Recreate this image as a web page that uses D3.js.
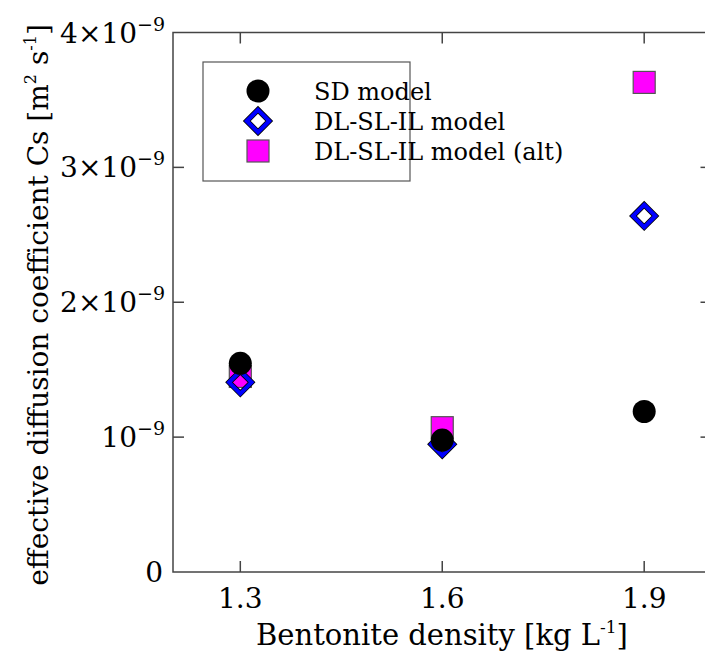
<!DOCTYPE html>
<html>
<head>
<style>
body { margin: 0; background: #fff; }
text { font-family: "DejaVu Serif", serif; fill: #000; }
</style>
</head>
<body>
<div id="chart"></div>
<script src="https://d3js.org/d3.v7.min.js"></script>
<script>
const width = 705;
const height = 656;

// data
const densities = [1.3, 1.6, 1.9];
const sdModel = [1.547e-9, 0.978e-9, 1.19e-9];
const dlModel = [1.406e-9, 0.947e-9, 2.64e-9];
const dlAltModel = [1.45e-9, 1.07e-9, 3.63e-9];

const xTicks = [1.3, 1.6, 1.9];
const yTicks = [0, 1e-9, 2e-9, 3e-9, 4e-9];
const yTickMantissa = ["0", "", "2\u00d7", "3\u00d7", "4\u00d7"];

const margin = { left: 173, top: 32.5, right: 711.5, bottom: 572 };

const svg = d3.select("#chart").append("svg")
  .attr("width", width)
  .attr("height", height);

const x = d3.scaleLinear().domain([1.2, 2.0]).range([margin.left, margin.right]);
const y = d3.scaleLinear().domain([0, 4e-9]).range([margin.bottom, margin.top]);

const frameColor = "#444";
const tickLen = 11;

// frame
svg.append("rect")
  .attr("x", margin.left)
  .attr("y", margin.top)
  .attr("width", margin.right - margin.left)
  .attr("height", margin.bottom - margin.top)
  .attr("fill", "none")
  .attr("stroke", frameColor)
  .attr("stroke-width", 1.5);

// inward ticks on all four sides
xTicks.forEach(t => {
  svg.append("line").attr("x1", x(t)).attr("x2", x(t))
    .attr("y1", margin.bottom).attr("y2", margin.bottom - tickLen)
    .attr("stroke", frameColor).attr("stroke-width", 1.5);
  svg.append("line").attr("x1", x(t)).attr("x2", x(t))
    .attr("y1", margin.top).attr("y2", margin.top + tickLen)
    .attr("stroke", frameColor).attr("stroke-width", 1.5);
  svg.append("text")
    .attr("x", x(t))
    .attr("y", 608)
    .attr("text-anchor", "middle")
    .attr("font-size", 28)
    .text(d3.format(".1f")(t));
});

yTicks.forEach((t, i) => {
  if (t > 0 && t < 4e-9) {
    svg.append("line").attr("x1", margin.left).attr("x2", margin.left + tickLen)
      .attr("y1", y(t)).attr("y2", y(t))
      .attr("stroke", frameColor).attr("stroke-width", 1.5);
    svg.append("line").attr("x1", margin.right).attr("x2", margin.right - tickLen)
      .attr("y1", y(t)).attr("y2", y(t))
      .attr("stroke", frameColor).attr("stroke-width", 1.5);
  }
  const label = svg.append("text")
    .attr("x", 165)
    .attr("y", y(t) + 10)
    .attr("text-anchor", "end")
    .attr("font-size", 28);
  if (t === 0) {
    label.attr("x", 163).text("0");
  } else {
    label.append("tspan").text(yTickMantissa[i] + "10");
    label.append("tspan").attr("font-size", 19).attr("dy", -12).text("\u22129");
  }
});

// axis titles
const xTitle = svg.append("text")
  .attr("x", 442)
  .attr("y", 645)
  .attr("text-anchor", "middle")
  .attr("font-size", 29);
xTitle.append("tspan").text("Bentonite density [kg L");
xTitle.append("tspan").attr("font-size", 17).attr("dy", -12).text("-1");
xTitle.append("tspan").attr("dy", 12).text("]");

const yTitle = svg.append("text")
  .attr("transform", "translate(48,305) rotate(-90)")
  .attr("text-anchor", "middle")
  .attr("font-size", 28);
yTitle.append("tspan").text("effective diffusion coefficient Cs [m");
yTitle.append("tspan").attr("font-size", 16).attr("dy", -12).text("2");
yTitle.append("tspan").attr("dy", 12).text(" s");
yTitle.append("tspan").attr("font-size", 16).attr("dy", -12).text("-1");
yTitle.append("tspan").attr("dy", 12).text("]");

// marker helpers
const sqSize = 22;
function drawSquare(g, cx, cy) {
  g.append("rect")
    .attr("x", cx - sqSize / 2).attr("y", cy - sqSize / 2)
    .attr("width", sqSize).attr("height", sqSize)
    .attr("fill", "#ff00ff")
    .attr("stroke", "#555")
    .attr("stroke-width", 1.2);
}
function drawDiamond(g, cx, cy) {
  const r = 11.2;
  const d = `M${cx},${cy - r} L${cx + r},${cy} L${cx},${cy + r} L${cx - r},${cy} Z`;
  g.append("path").attr("d", d).attr("fill", "none")
    .attr("stroke", "#000").attr("stroke-width", 5.6).attr("stroke-linejoin", "miter");
  g.append("path").attr("d", d).attr("fill", "none")
    .attr("stroke", "#0000ff").attr("stroke-width", 4).attr("stroke-linejoin", "miter");
}
function drawCircle(g, cx, cy) {
  g.append("circle").attr("cx", cx).attr("cy", cy).attr("r", 11.5).attr("fill", "#000");
}

const marks = svg.append("g");
densities.forEach((d, i) => drawSquare(marks, x(d), y(dlAltModel[i])));
densities.forEach((d, i) => drawDiamond(marks, x(d), y(dlModel[i])));
densities.forEach((d, i) => drawCircle(marks, x(d), y(sdModel[i])));

// legend
const legend = svg.append("g");
legend.append("rect")
  .attr("x", 203).attr("y", 62)
  .attr("width", 207).attr("height", 119)
  .attr("fill", "#fff")
  .attr("stroke", "#555")
  .attr("stroke-width", 1.2);

const legendItems = ["SD model", "DL-SL-IL model", "DL-SL-IL model (alt)"];
const legendDraw = [drawCircle, drawDiamond, drawSquare];
legendItems.forEach((name, i) => {
  const cy = 91 + i * 30;
  legendDraw[i](legend, 258, cy);
  legend.append("text")
    .attr("x", 314)
    .attr("y", cy + 8.5)
    .attr("font-size", 24)
    .text(name);
});
</script>
</body>
</html>
